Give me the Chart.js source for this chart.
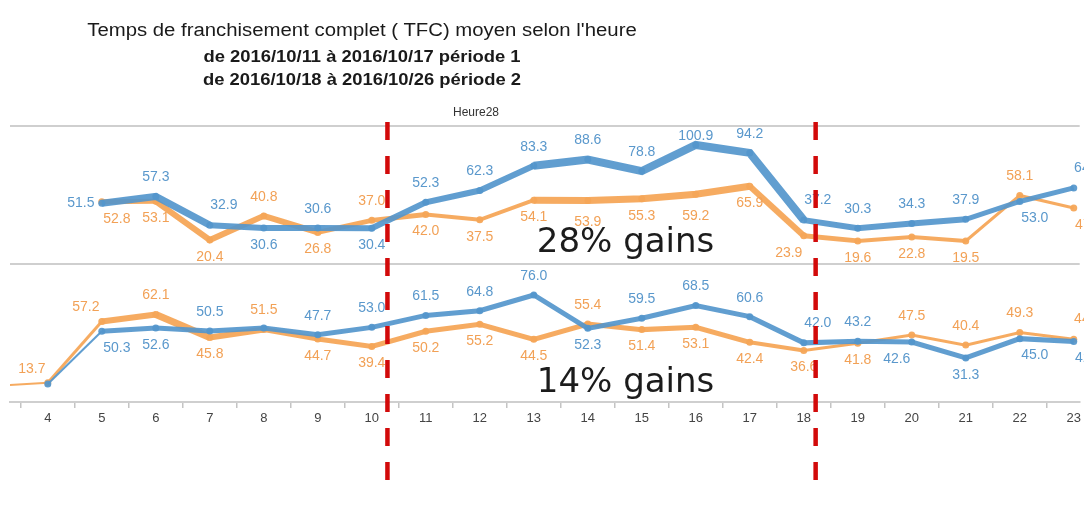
<!DOCTYPE html>
<html lang="fr">
<head>
<meta charset="utf-8">
<title>TFC moyen selon l'heure</title>
<script src="https://cdn.jsdelivr.net/npm/chart.js@4.4.1/dist/chart.umd.min.js"></script>
<style>
  html, body { margin: 0; padding: 0; background: #fff; }
  #wrap { position: relative; width: 1084px; height: 508px; overflow: hidden; }
  #myChart { position: absolute; left: 0; top: 0; }
  .titre { position: absolute; left: 0; width: 724px; text-align: center; color: #1a1a1a; white-space: nowrap; transform-origin: 362px 50%; }
  #t1 { top: 20px; font: 18px "Liberation Sans", Arial, sans-serif; transform: scaleX(1.13); }
  #t2 { top: 48px; font: bold 16px "Liberation Sans", Arial, sans-serif; transform: scaleX(1.15); }
  #t3 { top: 71px; font: bold 16px "Liberation Sans", Arial, sans-serif; transform: scaleX(1.15); }
  #heure { position: absolute; left: 453px; top: 105px; font: 12px "Liberation Sans", Arial, sans-serif; color: #333; }
</style>
</head>
<body>
<div id="wrap">
  <canvas id="myChart" width="1084" height="508"></canvas>
  <div class="titre" id="t1">Temps de franchisement complet ( TFC) moyen selon l'heure</div>
  <div class="titre" id="t2">de 2016/10/11 à 2016/10/17 période 1</div>
  <div class="titre" id="t3">de 2016/10/18 à 2016/10/26 période 2</div>
  <div id="heure">Heure28</div>
</div>
<script>
// heures (3 est coupée à gauche)
const hours = [3, 4, 5, 6, 7, 8, 9, 10, 11, 12, 13, 14, 15, 16, 17, 18, 19, 20, 21, 22, 23];

// panneau du haut
const topBleu = [null, null, 51.5, 57.3, 32.9, 30.6, 30.6, 30.4, 52.3, 62.3, 83.3, 88.6, 78.8, 100.9, 94.2, 37.2, 30.3, 34.3, 37.9, 53.0, 64.5];
const topOrange = [null, null, 52.8, 53.1, 20.4, 40.8, 26.8, 37.0, 42.0, 37.5, 54.1, 53.9, 55.3, 59.2, 65.9, 23.9, 19.6, 22.8, 19.5, 58.1, 47.5];

// panneau du bas
const basBleu = [null, 12.8, 50.3, 52.6, 50.5, 52.5, 47.7, 53.0, 61.5, 64.8, 76.0, 52.3, 59.5, 68.5, 60.6, 42.0, 43.2, 42.6, 31.3, 45.0, 42.9];
const basOrange = [11.3, 13.7, 57.2, 62.1, 45.8, 51.5, 44.7, 39.4, 50.2, 55.2, 44.5, 55.4, 51.4, 53.1, 42.4, 36.6, 41.8, 47.5, 40.4, 49.3, 44.5];

// separations des periodes (en heures)
const periodes = [10.29, 18.22];
const gains = ["28% gains", "14% gains"];

// epaisseur de chaque segment (partant du point i)
const wTopBleu = [0, 0, 7, 7, 6, 6, 6, 6, 6, 6, 8, 8, 8, 8, 8, 6, 6, 6, 5, 5, 5];
const wTopOrange = [0, 0, 5, 6, 6, 6, 5, 5, 4, 4, 7, 7, 7, 7, 6, 5, 4, 4, 3, 3, 3];
const wBasBleu = [0, 2, 5, 5, 5, 5, 5, 5, 5, 5, 5, 5, 5, 5, 5, 5, 5, 5, 5, 5, 5];
const wBasOrange = [2, 3, 6, 7, 6, 5, 5, 5, 5, 5, 5, 5, 5, 5, 4, 3, 3, 3, 3, 3, 3];

// placement des etiquettes (a=dessus, b=dessous, h=cachee ...)
const posTopBleu = ["h", "h", "l", "a", "ar", "b", "a", "b", "a", "a", "a", "a", "a", "A", "a", "ar", "a", "a", "a", "br", "ar"];
const posTopOrange = ["h", "h", "br", "b", "b", "a", "b", "a", "b", "b", "b", "B", "b", "B", "b", "bl", "b", "b", "b", "a", "br"];
const posBasBleu = ["h", "h", "br", "b", "a", "h", "a", "a", "a", "a", "a", "b", "a", "a", "a", "ar", "a", "bl", "b", "br", "br"];
const posBasOrange = ["h", "al", "al", "a", "b", "a", "b", "b", "b", "b", "b", "a", "b", "b", "b", "b", "b", "a", "a", "a", "ar"];

const decalages = {
  a: [0, -19], A: [0, -9], b: [0, 17], B: [0, 22],
  ar: [14, -20], br: [15, 17], bl: [-15, 17], al: [-16, -14], l: [-21, 0]
};

const BLEU = "rgba(84, 150, 204, 0.92)";
const ORANGE = "rgba(246, 166, 88, 0.95)";

function serie(vals, axe, couleur, texte, largeurs, places) {
  return {
    data: hours.map((h, i) => ({ x: h, y: vals[i] })),
    yAxisID: axe,
    borderColor: couleur,
    backgroundColor: couleur,
    pointRadius: 3.5,
    pointBorderWidth: 0,
    borderWidth: 5,
    spanGaps: false,
    segment: { borderWidth: (c) => largeurs[c.p0DataIndex] },
    labelColor: texte,
    placement: places,
  };
}

const ctx = document.getElementById("myChart");

const etiquettes = {
  id: "etiquettes",
  beforeDatasetsDraw(chart) {
    const c = chart.ctx;
    const a = chart.chartArea;
    c.save();
    c.strokeStyle = "#cfcfcf";
    c.lineWidth = 2;
    [chart.scales.yTop.top, chart.scales.yBas.top].forEach((y) => {
      c.beginPath();
      c.moveTo(a.left, y);
      c.lineTo(a.right, y);
      c.stroke();
    });
    c.restore();
  },
  afterDatasetsDraw(chart) {
    const c = chart.ctx;
    c.save();
    c.font = '14px "Liberation Sans", Arial, sans-serif';
    c.textAlign = "center";
    c.textBaseline = "middle";
    chart.data.datasets.forEach((ds, i) => {
      const meta = chart.getDatasetMeta(i);
      meta.data.forEach((pt, j) => {
        const v = ds.data[j].y;
        const p = ds.placement[j];
        if (v == null || !p || p === "h") return;
        const d = decalages[p];
        c.fillStyle = ds.labelColor;
        c.fillText(v.toFixed(1), pt.x + d[0], pt.y + d[1]);
      });
    });
    c.restore();
  },
  afterDraw(chart) {
    const c = chart.ctx;
    const x = chart.scales.x;
    c.save();
    // texte des gains
    c.font = '34px "DejaVu Sans", sans-serif';
    c.fillStyle = "#1c1c1c";
    c.textAlign = "center";
    c.textBaseline = "alphabetic";
    c.fillText(gains[0], x.getPixelForValue(14.7), chart.scales.yTop.getPixelForValue(10.2));
    c.fillText(gains[1], x.getPixelForValue(14.7), chart.scales.yBas.getPixelForValue(7.1));
    // lignes rouges pointillees
    c.strokeStyle = "#d20a0a";
    c.lineWidth = 4.5;
    c.setLineDash([18, 16]);
    periodes.forEach((h) => {
      const px = x.getPixelForValue(h);
      c.beginPath();
      c.moveTo(px, 122);
      c.lineTo(px, 481);
      c.stroke();
    });
    c.restore();
  },
};

new Chart(ctx, {
  type: "line",
  data: {
    datasets: [
      serie(topBleu, "yTop", BLEU, "#5a98cc", wTopBleu, posTopBleu),
      serie(basBleu, "yBas", BLEU, "#5a98cc", wBasBleu, posBasBleu),
      serie(topOrange, "yTop", ORANGE, "#f2a156", wTopOrange, posTopOrange),
      serie(basOrange, "yBas", ORANGE, "#f2a156", wBasOrange, posBasOrange),
    ],
  },
  options: {
    responsive: false,
    animation: false,
    layout: { padding: { top: 126, left: 10, right: 0, bottom: 80 } },
    plugins: { legend: { display: false }, tooltip: { enabled: false } },
    scales: {
      x: {
        type: "linear",
        min: 3.3,
        max: 23.11,
        afterBuildTicks: (s) => {
          s.ticks = hours.filter((h) => h >= 4).map((h) => ({ value: h }));
        },
        afterFit: (s) => { s.height = 26; },
        grid: { display: true, drawOnChartArea: false, offset: true, tickLength: 6, color: "#c4c4c4", lineWidth: 1.5 },
        border: { display: true, color: "#cfcfcf", width: 2 },
        ticks: { color: "#444", font: { size: 13, family: '"Liberation Sans", Arial, sans-serif' }, padding: 3, maxRotation: 0, autoSkip: false },
      },
      // l'ordre de declaration fixe l'empilement : le premier va en bas
      yBas: {
        type: "linear",
        position: "left",
        stack: "panneaux",
        stackWeight: 1,
        min: 0,
        max: 98,
        ticks: { display: false },
        grid: { display: false },
        border: { display: false },
        afterFit: (s) => { s.width = 0; },
      },
      yTop: {
        type: "linear",
        position: "left",
        stack: "panneaux",
        stackWeight: 1,
        min: 0,
        max: 117,
        ticks: { display: false },
        grid: { display: false },
        border: { display: false },
        afterFit: (s) => { s.width = 0; },
      },
    },
  },
  plugins: [etiquettes],
});
</script>
</body>
</html>
